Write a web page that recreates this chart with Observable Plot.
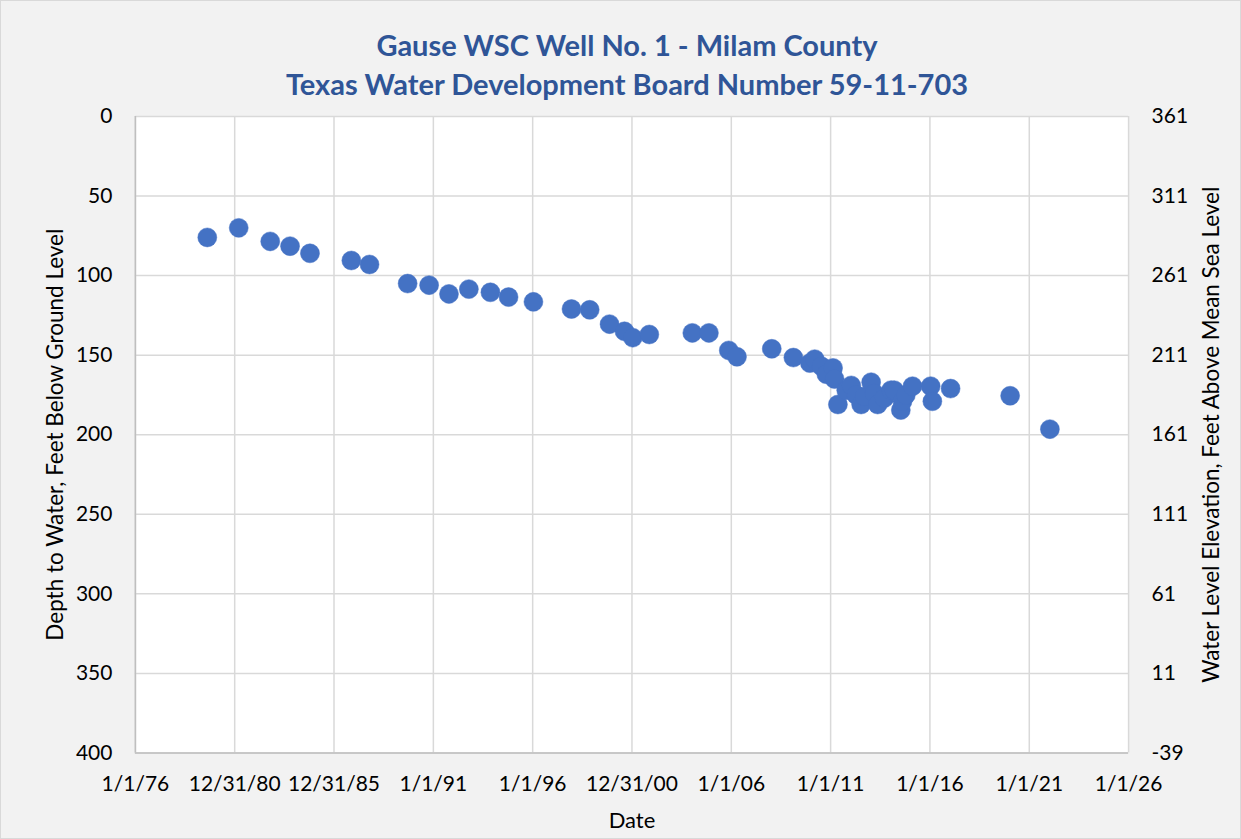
<!DOCTYPE html>
<html>
<head>
<meta charset="utf-8">
<script src="https://cdn.jsdelivr.net/npm/d3@7"></script>
<script src="https://cdn.jsdelivr.net/npm/@observablehq/plot@0.6"></script>
<style>
  html, body { margin: 0; padding: 0; background: #ffffff; }
  #chart {
    position: relative; width: 1241px; height: 839px; background: #f2f2f2;
    box-sizing: border-box; border: 1px solid #d9d9d9; overflow: hidden;
    font-family: Lato, "Open Sans", sans-serif;
  }
  #title {
    position: absolute; left: 0; top: 24px; width: 1252px; text-align: center;
    color: #2f5597; font-weight: bold; font-size: 29px; line-height: 39px;
  }
  #plot { position: absolute; left: -1px; top: 99px; }
</style>
</head>
<body>
<div id="chart">
  <div id="title">Gause WSC Well No. 1 - Milam County<br>Texas Water Development Board Number 59-11-703</div>
  <div id="plot"></div>
</div>
<script>
// Measurement dates and depth to water (feet below ground level)
const dates = [
  "1979-08","1981-03","1982-10","1983-10","1984-10","1986-11","1987-10","1989-09","1990-10","1991-10",
  "1992-10","1993-11","1994-10","1996-01","1997-12","1998-11","1999-11","2000-08","2001-01","2001-11",
  "2004-01","2004-11","2005-11","2006-04","2008-01","2009-02","2009-12","2010-03","2010-07","2010-10",
  "2011-02","2011-03","2011-05","2011-10","2012-01","2012-04","2012-07","2012-09","2013-01","2013-03",
  "2013-05","2013-09","2014-01","2014-03","2014-07","2014-08","2014-10","2015-02","2016-01","2016-02",
  "2017-01","2020-01","2022-01"
];
const depths = [
  76, 70, 78.5, 81.5, 86, 90.5, 93, 105, 106, 111.5,
  108.5, 110.5, 113.5, 116.5, 121, 121.5, 130.5, 135, 139, 137,
  136, 136, 147, 151, 146, 151.5, 155, 152.5, 157, 162,
  158, 165, 181, 172, 169, 175, 181, 176, 167, 174,
  181, 177, 172, 172, 184.5, 179, 175, 169.5, 169.5, 179,
  171, 175.5, 196.5
];
// Axis ticks
const xTickDates = ["1976-01-01","1980-12-31","1985-12-31","1991-01-01","1996-01-01","2000-12-31",
                    "2006-01-01","2011-01-01","2016-01-01","2021-01-01","2026-01-01"];
const yTicks = [0, 50, 100, 150, 200, 250, 300, 350, 400];
const groundElevation = 361; // elevation = 361 - depth

const data = dates.map((d, i) => ({date: new Date(d + "-15T00:00:00Z"), depth: depths[i]}));
const xTicks = xTickDates.map(d => new Date(d + "T00:00:00Z"));
const fmtDate = d => `${d.getUTCMonth() + 1}/${d.getUTCDate()}/${String(d.getUTCFullYear()).slice(2)}`;

const chart = Plot.plot({
  width: 1241,
  height: 740,
  marginLeft: 135,
  marginRight: 112,
  marginTop: 16,
  marginBottom: 87,
  style: {background: "transparent", fontFamily: "Lato, 'Open Sans', sans-serif", fontSize: "21px", color: "#000"},
  x: {type: "utc", domain: [xTicks[0], xTicks[xTicks.length - 1]]},
  y: {domain: [0, 400], reverse: true},
  marks: [
    Plot.frame({fill: "white", stroke: null}),
    Plot.gridY(yTicks, {stroke: "#d9d9d9", strokeOpacity: 1, strokeWidth: 1.5}),
    Plot.gridX(xTicks, {stroke: "#d9d9d9", strokeOpacity: 1, strokeWidth: 1.5}),
    Plot.ruleX([xTicks[0]], {stroke: "#bfbfbf", strokeWidth: 1.5}),
    Plot.ruleY([400], {stroke: "#bfbfbf", strokeWidth: 1.5}),
    Plot.dot(data, {x: "date", y: "depth", r: 9.5, fill: "#4472c4", stroke: "#4472c4", strokeWidth: 0.5}),
    Plot.axisY(yTicks, {anchor: "left", tickSize: 0, tickPadding: 23, label: null, fill: "#000"}),
    Plot.axisY(yTicks, {anchor: "right", tickSize: 0, tickPadding: 23, label: null, fill: "#000",
                        textAnchor: "start", tickFormat: d => String(groundElevation - d)}),
    Plot.axisX(xTicks, {anchor: "bottom", tickSize: 0, tickPadding: 23, label: null, fill: "#000",
                        tickFormat: fmtDate}),
    Plot.text(["Depth to Water, Feet Below Ground Level"],
              {frameAnchor: "left", dx: -80, rotate: -90, textAnchor: "middle", fill: "#000", fontSize: 22.5}),
    Plot.text(["Water Level Elevation, Feet Above Mean Sea Level"],
              {frameAnchor: "right", dx: 83, rotate: -90, textAnchor: "middle", fill: "#000", fontSize: 22.5}),
    Plot.text(["Date"], {frameAnchor: "bottom", dy: 75, fill: "#000", fontSize: 22})
  ]
});
document.getElementById("plot").appendChild(chart);
</script>
</body>
</html>
